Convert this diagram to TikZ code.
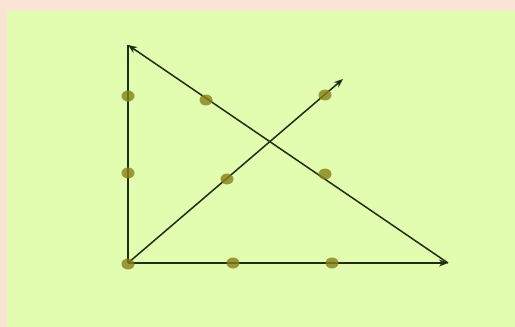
\documentclass[tikz,border=0pt]{standalone}
\usetikzlibrary{arrows.meta,shapes.geometric}
\definecolor{pinkbg}{RGB}{250,228,214}
\definecolor{greenbg}{RGB}{226,252,176}
\definecolor{linec}{RGB}{30,45,20}
\definecolor{dotc}{RGB}{135,128,25}
\tikzset{
  conn/.style={draw=linec, line width=1.5pt},
  arr/.style={conn, -{Stealth[length=9pt,width=7pt]}},
  dot/.style={fill=dotc, fill opacity=0.8, draw=none, ellipse, minimum width=13pt, minimum height=11pt, inner sep=0pt},
}
\begin{document}
\begin{tikzpicture}[x=1pt,y=-1pt]
\fill[pinkbg] (0,0) rectangle (515,327);
\fill[greenbg] (7,11) rectangle (515,327);
\useasboundingbox (0,0) rectangle (515,327);
\coordinate (O) at (128,263);
\coordinate (T) at (128,45);
\coordinate (R) at (448,263);
\coordinate (D) at (343,79);
\draw[conn] (O) -- (T);
\draw[arr] (O) -- (R);
\draw[arr] (R) -- (T);
\draw[arr] (O) -- (D);
\node[dot] (d1) at (128,96) {};
\node[dot] (d2) at (128,173) {};
\node[dot] (d3) at (128,264) {};
\node[dot] (d4) at (206,100) {};
\node[dot] (d5) at (325,95) {};
\node[dot] (d6) at (227,179) {};
\node[dot] (d7) at (325,174) {};
\node[dot] (d8) at (233,263) {};
\node[dot] (d9) at (332,263) {};
\end{tikzpicture}
\end{document}
